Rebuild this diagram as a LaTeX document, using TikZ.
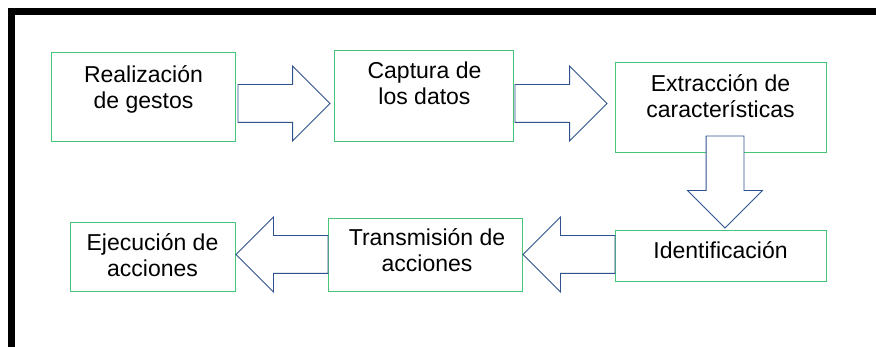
\documentclass[tikz,border=0pt]{standalone}
\usepackage{fontspec}
\setmainfont{Liberation Sans}
\usetikzlibrary{shapes.arrows}
\definecolor{verde}{RGB}{70,196,120}
\definecolor{azul}{RGB}{47,82,143}
\tikzset{
  caja/.style={draw=verde, line width=0.9pt, rectangle, inner sep=0pt},
  texto/.style={align=center, anchor=base, inner sep=0pt, font=\fontsize{23}{26}\selectfont},
  flecha/.style={draw=azul, fill=white, line width=0.9pt, single arrow, inner xsep=0pt, inner ysep=18.5pt,
    single arrow head extend=18.5pt, minimum height=92pt, minimum width=1pt, outer sep=0pt, anchor=tail},
  flechav/.style={flecha, inner xsep=18.5pt, inner ysep=0pt, shape border rotate=270}
}
\begin{document}
\begin{tikzpicture}[x=1pt, y=-1pt]
  \useasboundingbox (0,0) rectangle (876,347);
  %marco
  \draw[line width=7pt] (11.5,347) -- (11.5,11.5) -- (876,11.5);

  %cajas
  \node[caja, minimum width=184pt, minimum height=89pt] (gestos) at (143,96.5) {};
  \node[caja, minimum width=179pt, minimum height=91pt] (captura) at (423.5,95.5) {};
  \node[caja, minimum width=211pt, minimum height=90pt] (extraccion) at (720.5,107) {};
  \node[caja, minimum width=211pt, minimum height=51pt] (identif) at (720.5,255.5) {};
  \node[caja, minimum width=194pt, minimum height=73pt] (transm) at (425,254.5) {};
  \node[caja, minimum width=165pt, minimum height=69pt] (ejecucion) at (152.5,256.5) {};

  %textos (base = ultima linea)
  \node[texto] (tgestos) at (143.5,108.5) {Realización\\de gestos};
  \node[texto] (tcaptura) at (424.5,105) {Captura de\\los datos};
  \node[texto] (textraccion) at (720.5,118) {Extracción de\\características};
  \node[texto] (tidentif) at (720.5,259) {Identificación};
  \node[texto] (ttransm) at (427,272) {Transmisión de\\acciones};
  \node[texto] (tejecucion) at (152.5,277) {Ejecución de\\acciones};

  %flechas
  \node[flecha] (f1) at (238,103.5) {};
  \node[flecha] (f2) at (515,103.5) {};
  \node[flechav] (f3) at (725,136) {};
  \node[flecha, shape border rotate=180] (f4) at (615,254.5) {};
  \node[flecha, shape border rotate=180] (f5) at (328,254.5) {};
\end{tikzpicture}
\end{document}
